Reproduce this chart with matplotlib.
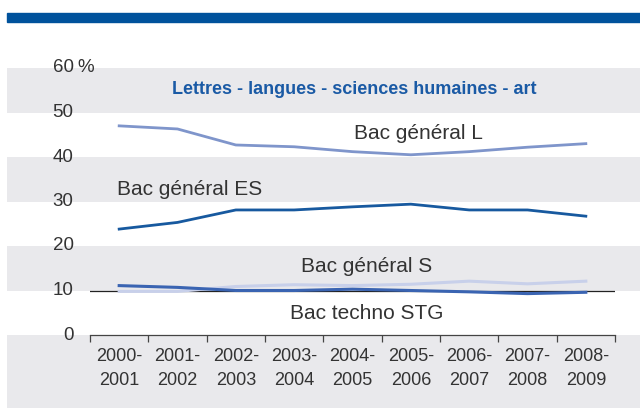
import matplotlib.pyplot as plt
import matplotlib.transforms as mtransforms
from matplotlib.patches import Rectangle
from matplotlib import font_manager

# Data
years = ["2000-\n2001", "2001-\n2002", "2002-\n2003", "2003-\n2004", "2004-\n2005",
         "2005-\n2006", "2006-\n2007", "2007-\n2008", "2008-\n2009"]
bac_l = [47.0, 46.3, 42.7, 42.3, 41.2, 40.5, 41.2, 42.2, 43.0]
bac_es = [23.8, 25.3, 28.1, 28.1, 28.8, 29.4, 28.1, 28.1, 26.7]
bac_s = [9.8, 9.8, 10.9, 11.3, 11.1, 11.4, 12.1, 11.5, 12.1]
bac_stg = [11.1, 10.7, 10.0, 10.0, 10.3, 10.0, 9.7, 9.3, 9.6]
yticks = [0, 10, 20, 30, 40, 50, 60]

# condensed-ish font if present
names = {f.name for f in font_manager.fontManager.ttflist}
fam = "Liberation Sans Narrow" if "Liberation Sans Narrow" in names else "Liberation Sans"
plt.rcParams["font.family"] = [fam, "DejaVu Sans"]

W, H = 640, 408
fig = plt.figure(figsize=(6.4, 4.08), dpi=100)
ax = fig.add_axes([90 / W, (H - 335) / H, 525 / W, 267 / H])
ax.set_xlim(-0.5, 8.5)
ax.set_ylim(0, 60)
ax.patch.set_alpha(0)

# top blue band
fig.patches.append(Rectangle((7 / W, (H - 22) / H), 1, 9 / H, transform=fig.transFigure,
                             color="#00529c", zorder=0))

# alternating background bands spanning the figure width
trans = mtransforms.blended_transform_factory(fig.transFigure, ax.transData)
for lo, hi in [(50, 60), (30, 40), (10, 20), (-20, 0)]:
    ax.add_patch(Rectangle((7 / W, lo), 1, hi - lo, transform=trans,
                           color="#e9e9ec", clip_on=False, zorder=0, lw=0))

x = list(range(len(years)))
ax.axhline(10, color="#222222", lw=0.9, zorder=1)
ax.plot(x, bac_s, color="#c8d0ea", lw=2.2, zorder=2)
ax.plot(x, bac_stg, color="#3a64b2", lw=2.2, zorder=3)
ax.plot(x, bac_es, color="#17599f", lw=2.0, zorder=3)
ax.plot(x, bac_l, color="#7f95cb", lw=2.0, zorder=3)

for s in ["top", "right", "left"]:
    ax.spines[s].set_visible(False)
ax.spines["bottom"].set_color("#444444")
ax.spines["bottom"].set_linewidth(0.9)

ax.set_xticks([i - 0.5 for i in range(len(years) + 1)])
ax.set_xticklabels([])
ax.tick_params(axis="x", length=5, width=0.9, color="#444444", direction="out")
ax.set_yticks([])

for i, lab in enumerate(years):
    ax.text(i, -3.0, lab, ha="center", va="top", fontsize=13, color="#333333",
            linespacing=1.5)

for v in yticks:
    ax.text(-0.78, v, str(v), ha="right", va="center", fontsize=13.5, color="#333333",
            transform=ax.transData, clip_on=False)
ax.text(-0.72, 60, "%", ha="left", va="center", fontsize=13.5, color="#333333")

ax.text(4.03, 55.2, "Lettres - langues - sciences humaines - art", ha="center",
        va="center", fontsize=13, fontweight="bold", color="#1a5aa5")
ax.text(5.13, 45.2, "Bac général L", ha="center", va="center", fontsize=15, color="#333333")
ax.text(1.2, 32.6, "Bac général ES", ha="center", va="center", fontsize=15, color="#333333")
ax.text(4.25, 15.4, "Bac général S", ha="center", va="center", fontsize=15, color="#333333")
ax.text(4.25, 4.9, "Bac techno STG", ha="center", va="center", fontsize=15, color="#333333")

fig.savefig("out.png", dpi=100)
